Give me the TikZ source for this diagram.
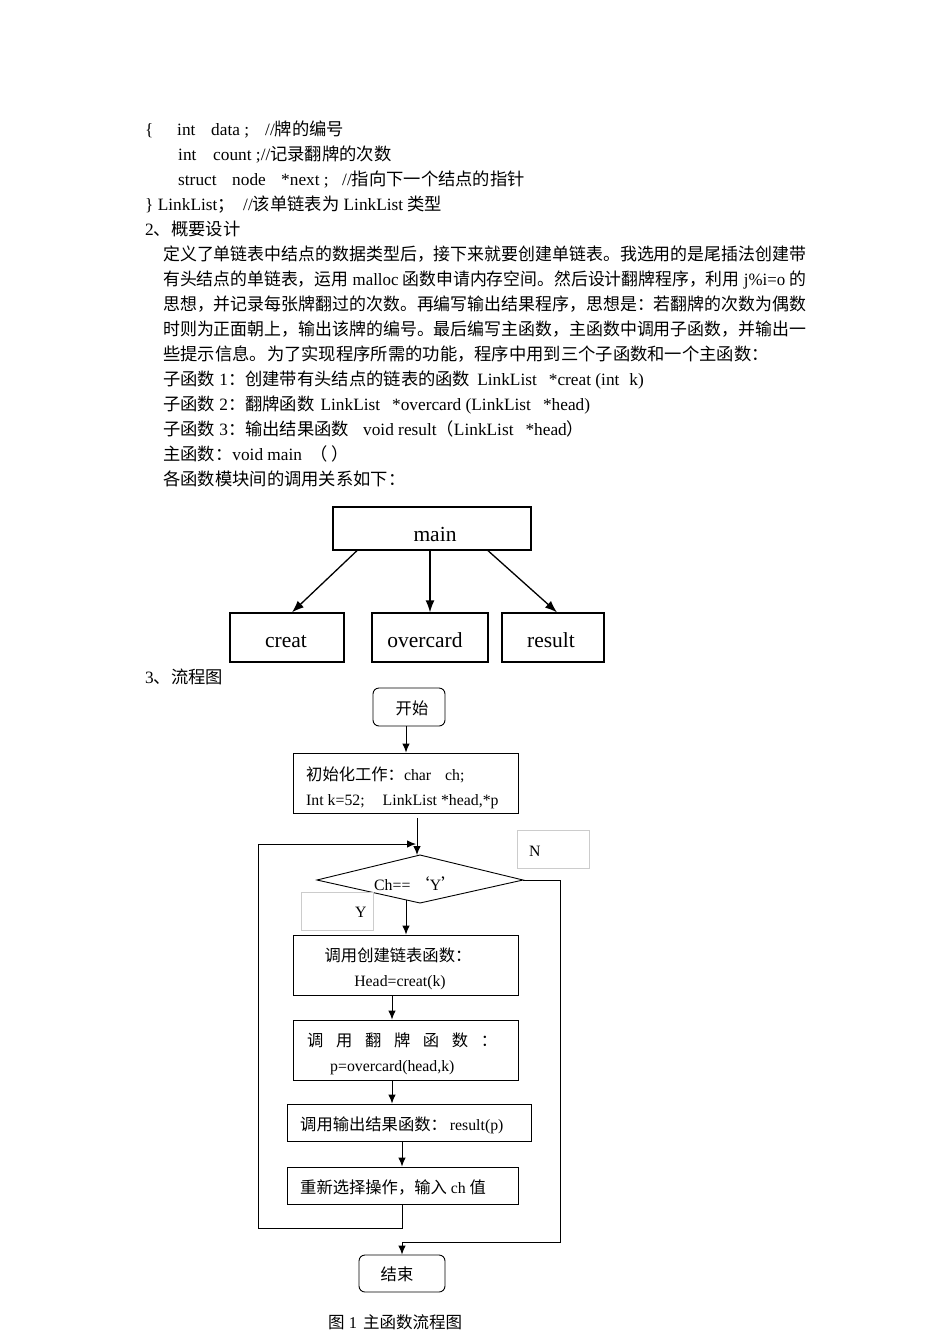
\documentclass[tikz,border=0pt]{standalone}
\usepackage{graphicx}
\usepackage{fontspec}
\setmainfont{Liberation Serif}
\newfontfamily\cjk{Noto Sans CJK SC}
\usetikzlibrary{arrows.meta}
\newcommand\zh[1]{{\cjk #1}}
\newcommand\zf[1]{{\cjk\fontsize{16.3}{19}\selectfont #1}}
\newcommand\jline[1]{\resizebox{643pt}{\height}{#1}}
\begin{document}
\begin{tikzpicture}[x=1pt,y=-1pt,
  body/.style={anchor=base west, inner sep=0pt, font=\fontsize{17.3}{20}\selectfont},
  ftext/.style={anchor=base west, inner sep=0pt, font=\fontsize{15.8}{19}\selectfont},
  fctext/.style={anchor=base, inner sep=0pt, font=\fontsize{15.8}{19}\selectfont},
  ttext/.style={anchor=base, inner sep=0pt, font=\fontsize{21.5}{24}\selectfont},
  captext/.style={anchor=base west, inner sep=0pt, font=\fontsize{16.5}{19}\selectfont},
  tbox/.style={draw, line width=1.3pt, inner sep=0pt},
  fbox/.style={draw, line width=0.9pt, inner sep=0pt},
  rbox/.style={fbox, rounded corners=6pt},
  lbl/.style={draw=black!20, line width=0.6pt, inner sep=0pt},
  arr/.style={line width=1pt, -{Latex[length=9pt,width=7.5pt]}},
  tarr/.style={line width=1.3pt, -{Latex[length=12pt,width=9pt]}}
]
\useasboundingbox[fill=white] (0,0) rectangle (950,1344);

% ---- text block ----
\node[body] (l1a) at (145,135) {\{};
\node[body] (l1b) at (177,135) {int};
\node[body] (l1c) at (211,135) {data ;};
\node[body] (l1d) at (265,135) {//\zh{牌的编号}};
\node[body] (l2a) at (178,160) {int};
\node[body] (l2b) at (213,160) {count ;//\zh{记录翻牌的次数}};
\node[body] (l3a) at (178,185) {struct};
\node[body] (l3b) at (232,185) {node};
\node[body] (l3c) at (281,185) {*next ;};
\node[body] (l3d) at (342,185) {//\zh{指向下一个结点的指针}};
\node[body] (l4a) at (145,210) {\} LinkList\zh{；}};
\node[body] (l4b) at (243,210) {//\zh{该单链表为} LinkList \zh{类型}};
\node[body] (l5) at (145,235) {2\zh{、概要设计}};
\node[body] (p1) at (163,260) {\jline{\zh{定义了单链表中结点的数据类型后，接下来就要创建单链表。我选用的是尾插法创建带}}};
\node[body] (p2) at (163,285) {\jline{\zh{有头结点的单链表，运用} malloc \zh{函数申请内存空间。然后设计翻牌程序，利用} j\%i=o \zh{的}}};
\node[body] (p3) at (163,310) {\jline{\zh{思想，并记录每张牌翻过的次数。再编写输出结果程序，思想是：若翻牌的次数为偶数}}};
\node[body] (p4) at (163,335) {\jline{\zh{时则为正面朝上，输出该牌的编号。最后编写主函数，主函数中调用子函数，并输出一}}};
\node[body] (p5) at (163,360) {\zh{些提示信息。为了实现程序所需的功能，程序中用到三个子函数和一个主函数：}};
\node[body] (p6) at (163,385) {\zh{子函数} 1\zh{：创建带有头结点的链表的函数}\hspace{7pt}LinkList\hspace{12pt}*creat (int\hspace{10pt}k)};
\node[body] (p7) at (163,410) {\zh{子函数} 2\zh{：翻牌函数}\hspace{6pt}LinkList\hspace{12pt}*overcard (LinkList\hspace{12pt}*head)};
\node[body] (p8) at (163,435) {\zh{子函数} 3\zh{：输出结果函数}\hspace{14pt}void result\zh{（}LinkList\hspace{12pt}*head\zh{）}};
\node[body] (p9) at (163,460) {\zh{主函数：}void main\hspace{8pt}\zh{（}\hspace{4pt}\zh{）}};
\node[body] (p10) at (163,485) {\zh{各函数模块间的调用关系如下：}};
\node[body] (l3h) at (145,683) {3\zh{、流程图}};

% ---- call tree ----
\node[tbox, minimum width=198pt, minimum height=43pt] (main) at (432,528.5) {};
\node[tbox, minimum width=114pt, minimum height=49pt] (creat) at (287,637.5) {};
\node[tbox, minimum width=116pt, minimum height=49pt] (over) at (430,637.5) {};
\node[tbox, minimum width=102pt, minimum height=49pt] (res) at (553,637.5) {};
\node[ttext] (tmain) at (435,541) {main};
\node[ttext] (tcreat) at (286,647) {creat};
\node[ttext] (tover) at (425,647) {overcard};
\node[ttext] (tres) at (551,647) {result};
\draw[tarr] ([xshift=-75pt]main.south) -- ([xshift=5pt]creat.north);
\draw[tarr] ([xshift=-2pt]main.south) -- (over.north);
\draw[tarr] ([xshift=56pt]main.south) -- ([xshift=4pt]res.north);

% ---- flowchart ----
\node[rbox, minimum width=72pt, minimum height=38pt] (start) at (409,707) {};
\node[fbox, minimum width=225pt, minimum height=60pt] (init) at (405.5,783) {};
\coordinate (dT) at (420,855);
\coordinate (dB) at (420,903);
\coordinate (dL) at (317,880);
\coordinate (dR) at (523,880);
\coordinate (dY) at (406,900);
\draw[fbox] (dT) -- (dR) -- (dB) -- (dL) -- cycle;
\node[fbox, minimum width=225pt, minimum height=60pt] (b1) at (405.5,965) {};
\node[fbox, minimum width=225pt, minimum height=60pt] (b2) at (405.5,1050) {};
\node[fbox, minimum width=244pt, minimum height=37pt] (b3) at (409,1122.5) {};
\node[fbox, minimum width=231pt, minimum height=37pt] (b4) at (402.5,1185.5) {};
\node[rbox, minimum width=86pt, minimum height=37pt] (end) at (402,1273.5) {};
\node[lbl, minimum width=72pt, minimum height=38pt] (nbox) at (553,849) {};
\node[lbl, minimum width=72pt, minimum height=38pt] (ybox) at (337,911) {};

\node[fctext] (t0) at (412,714) {\zf{开始}};
\node[ftext] (ti1) at (306,780) {\zf{初始化工作：}char\hspace{14pt}ch;};
\node[ftext] (ti2) at (306,805) {Int k=52;\hspace{18pt}LinkList *head,*p};
\node[ftext] (tc) at (374,890) {Ch==\hspace{3pt}\zf{‘}Y\zf{’}};
\node[ftext] (tn) at (529,856) {N};
\node[ftext] (ty) at (355,917) {Y};
\node[fctext] (tb1a) at (398,961) {\zf{调用创建链表函数：}};
\node[fctext] (tb1b) at (400,986) {Head=creat(k)};
\node[ftext] (tb2a) at (307,1046) {\makebox[190pt][s]{\zf{调} \zf{用} \zf{翻} \zf{牌} \zf{函} \zf{数} \zf{：}}};
\node[ftext] (tb2b) at (330,1071) {p=overcard(head,k)};
\node[ftext] (tb3) at (300,1130) {\zf{调用输出结果函数：}\hspace{3pt}result(p)};
\node[ftext] (tb4) at (300,1193) {\zf{重新选择操作，输入} ch \zf{值}};
\node[fctext] (te) at (397,1280) {\zf{结束}};
\node[captext] (cap) at (328,1328) {\zh{图} 1\hspace{6pt}\zh{主函数流程图}};

\coordinate (lb) at (258,1228);
\coordinate (lt) at (258,844);
\coordinate (lj) at (416,844);
\coordinate (rb) at (560,1242);

\draw[arr] ([xshift=-3pt]start.south) -- ([xshift=0.5pt]init.north);
\draw[arr] ([shift={(11.5pt,-5pt)}]init.south) -- ([xshift=-3pt]dT);
\draw[arr] (dY) -- ([xshift=0.5pt]b1.north);
\draw[arr] ([xshift=-13.5pt]b1.south) -- ([xshift=-13.5pt]b2.north);
\draw[arr] ([xshift=-13.5pt]b2.south) -- ([xshift=-17pt]b3.north);
\draw[arr] ([xshift=-7pt]b3.south) -- ([xshift=-0.5pt]b4.north);
\draw[arr] ([xshift=-0.5pt]b4.south) |- (lb) -- (lt) -- (lj);
\draw[arr] (dR) -| (rb) -| (end.north);
\end{tikzpicture}
\end{document}
